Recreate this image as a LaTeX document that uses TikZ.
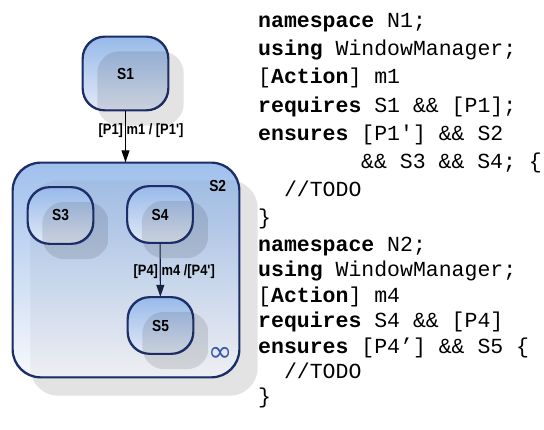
\documentclass[tikz,border=0pt]{standalone}
\usepackage{fontspec}
\usepackage{tikz}
\usetikzlibrary{arrows.meta}
\newfontfamily\codefont{Liberation Mono}
\newfontfamily\statefont[FakeStretch=0.86]{Liberation Sans}
\newfontfamily\symbolfont{DejaVu Sans}
\definecolor{stborder}{RGB}{28,46,104}
\definecolor{sttop}{RGB}{152,186,234}
\definecolor{stbottom}{RGB}{226,233,246}
\definecolor{suptop}{RGB}{160,192,236}
\definecolor{supbottom}{RGB}{248,249,252}
\definecolor{loopblue}{RGB}{58,88,168}
\definecolor{arrowdark}{RGB}{22,34,64}
\newcommand\kw[1]{\textbf{#1}}
% offset shadow of a state: #1 node, #2 corner radius, #3 offset, #4 opacity seen through the fill
\newcommand\castshadow[4]{%
  \begin{scope}
    \clip[rounded corners=#2]
      ([shift={(#3,-#3)}]#1.south west) rectangle ([shift={(#3,-#3)}]#1.north east);
    \fill[black, opacity=0.11, even odd rule]
      (#1.north west) rectangle ([shift={(#3,-#3)}]#1.south east)
      [rounded corners=#2] (#1.south west) rectangle (#1.north east);
  \end{scope}
  \begin{scope}
    \clip[rounded corners=#2] (#1.south west) rectangle (#1.north east);
    \fill[black, opacity=#4, rounded corners=#2]
      ([shift={(#3,-#3)}]#1.south west) rectangle ([shift={(#3,-#3)}]#1.north east);
  \end{scope}
  \draw[stborder, line width=1.4pt, rounded corners=#2]
    (#1.south west) rectangle (#1.north east);}
\tikzset{
  state/.style={draw=stborder, line width=1.4pt, rounded corners=22pt, inner sep=0pt,
    top color=sttop, bottom color=stbottom, minimum width=65pt, minimum height=56pt,
    font=\statefont\bfseries\fontsize{16}{18}\selectfont},
  superstate/.style={draw=stborder, line width=1.4pt, rounded corners=28pt, inner sep=0pt,
    top color=suptop, bottom color=supbottom},
  statename/.style={inner sep=0pt, font=\statefont\bfseries\fontsize{16}{18}\selectfont},
  trans/.style={line width=1.1pt, -{Triangle[length=12pt,width=8pt]}},
  translabel/.style={inner sep=0pt, font=\statefont\bfseries\fontsize{15}{17}\selectfont},
  code/.style={anchor=base west, inner sep=0pt, font=\codefont\fontsize{21.5}{25}\selectfont}
}

\begin{document}
\begin{tikzpicture}[x=1pt, y=-1pt]
    \useasboundingbox (0,0) rectangle (544,430);

    % states
    \node[state, minimum width=85pt, minimum height=73pt] (s1) at (125.5,73.5) {S1};
    \castshadow{s1}{22pt}{15pt}{0.10}
    \node[superstate, minimum width=226pt, minimum height=214pt] (s2) at (126,270) {};
    \castshadow{s2}{28pt}{18pt}{0.04}
    \node[statename] (s2name) at ([shift={(-22pt,-24pt)}]s2.north east) {S2};
    \node[state] (s3) at (60.5,215.5) {S3};
    \castshadow{s3}{22pt}{15pt}{0.10}
    \node[state] (s4) at (160,214.5) {S4};
    \castshadow{s4}{22pt}{15pt}{0.10}
    \node[state] (s5) at (160.5,325.5) {S5};
    \castshadow{s5}{22pt}{15pt}{0.10}
    \node[inner sep=0pt, text=loopblue, font=\symbolfont\fontsize{29}{29}\selectfont] (s2loop)
        at ([shift={(-19pt,23pt)}]s2.south east) {∞};

    % transitions
    \draw[trans] (s1) -- (s1 |- s2.north)
        node[translabel, pos=0.38, xshift=15.5pt] (m1lbl) {[P1] m1 / [P1']};
    \draw[trans, draw=arrowdark, fill=arrowdark] (s4) -- (s5)
        node[translabel, pos=0.53, xshift=14pt] (m4lbl) {[P4] m4 /[P4']};

    % contract for m1
    \node[code] (ca1) at (258,28)  {\kw{namespace} N1;};
    \node[code] (ca2) at (258,56)  {\kw{using} WindowManager;};
    \node[code] (ca3) at (258,84)  {[\kw{Action}] m1};
    \node[code] (ca4) at (258,113) {\kw{requires} S1 \&\& [P1];};
    \node[code] (ca5) at (258,141) {\kw{ensures} [P1'] \&\& S2};
    \node[code] (ca6) at (361,169) {\&\& S3 \&\& S4; \{};
    \node[code] (ca7) at (283.8,197) {//TODO};
    \node[code] (ca8) at (258,225) {\}};

    % contract for m4
    \node[code] (cb1) at (258,252) {\kw{namespace} N2;};
    \node[code] (cb2) at (258,277) {\kw{using} WindowManager;};
    \node[code] (cb3) at (258,303) {[\kw{Action}] m4};
    \node[code] (cb4) at (258,328) {\kw{requires} S4 \&\& [P4]};
    \node[code] (cb5) at (258,354) {\kw{ensures} [P4’] \&\& S5 \{};
    \node[code] (cb6) at (283.8,379) {//TODO};
    \node[code] (cb7) at (258,404) {\}};
\end{tikzpicture}
\end{document}
